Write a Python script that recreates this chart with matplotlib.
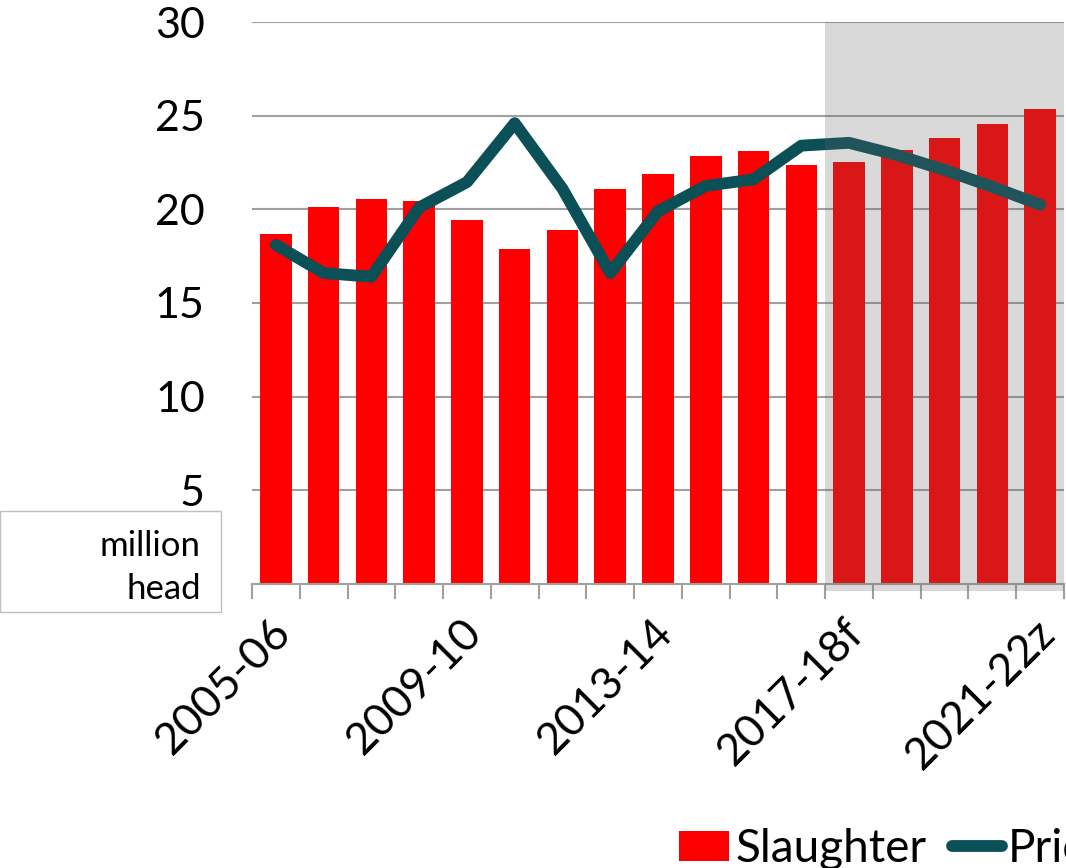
import matplotlib
matplotlib.use("Agg")
import matplotlib.pyplot as plt
import matplotlib.transforms as mtransforms
from matplotlib.patches import Rectangle
import numpy as np

# datos
years = ["2005-06", "2006-07", "2007-08", "2008-09", "2009-10", "2010-11", "2011-12",
         "2012-13", "2013-14", "2014-15", "2015-16", "2016-17", "2017-18f", "2018-19z",
         "2019-20z", "2020-21z", "2021-22z"]
slaughter = [18.7, 20.1, 20.55, 20.45, 19.45, 17.9, 18.9, 21.1, 21.9, 22.85, 23.1,
             22.35, 22.55, 23.15, 23.8, 24.55, 25.35]
price = [18.1, 16.6, 16.4, 20.1, 21.45, 24.6, 21.1, 16.6, 19.9, 21.25, 21.6,
         23.4, 23.55, 22.9, 22.1, 21.2, 20.25]
shown_labels = ["2005-06", "2009-10", "2013-14", "2017-18f", "2021-22z"]

plt.rcParams['font.family'] = ['Lato', 'DejaVu Sans']

fig = plt.figure(figsize=(10.66, 8.68), dpi=100)
ax = fig.add_axes([252/1066, 1-584/868, (1064-252)/1066, (584-22)/868])

x = np.arange(len(years))
barras = ax.bar(x, slaughter, width=0.66, color="#FF0000", zorder=2, label="Slaughter")
linea, = ax.plot(x, price, color="#0B4F57", lw=8.5, solid_capstyle="round",
                 solid_joinstyle="round", zorder=3, label="Price")

# sombreado de proyecciones
ax.add_patch(Rectangle((11.5, -0.35), 5.0, 30.35, facecolor="#646464", alpha=0.24,
                       edgecolor="none", zorder=5, clip_on=False))

ax.set_xlim(-0.5, 16.5)
ax.set_ylim(0, 30)
ax.set_yticks([5, 10, 15, 20, 25, 30])
ax.yaxis.grid(True, color="#A0A0A0", lw=1.5, zorder=0)
ax.set_axisbelow(True)
ax.tick_params(axis="y", length=0, pad=34, labelsize=31)

pos = [years.index(s) for s in shown_labels]
ax.set_xticks(pos)
ax.set_xticklabels(shown_labels, rotation=45, ha="right", rotation_mode="anchor")
ax.tick_params(axis="x", which="major", length=0, pad=20, labelsize=32)
desplaza = mtransforms.ScaledTranslation(-6/100, 0, fig.dpi_scale_trans)
for lab in ax.get_xticklabels():
    lab.set_transform(lab.get_transform() + desplaza)
ax.set_xticks(np.arange(-0.5, 17, 1), minor=True)
ax.tick_params(axis="x", which="minor", length=11, width=1.5, color="#A0A0A0")

for s in ["left", "right", "top"]:
    ax.spines[s].set_visible(False)
ax.spines["bottom"].set_color("#A0A0A0")
ax.spines["bottom"].set_linewidth(1.5)

# caja de unidades
fig.patches.append(Rectangle((0, 1-612/868), 221/1066, 101/868, transform=fig.transFigure,
                             facecolor="white", edgecolor="#BFBFBF", lw=1, zorder=10))
fig.text(201/1066, 1-546/868, "million", ha="right", va="center", fontsize=25, zorder=11)
fig.text(201/1066, 1-589/868, "head", ha="right", va="center", fontsize=25, zorder=11)

fig.legend([barras, linea], ["Slaughter", "Price"], loc="center left",
           bbox_to_anchor=(679/1066, 1-849/868), ncol=2, frameon=False,
           fontsize=33, handlelength=1.1, handleheight=0.63, handletextpad=0.13,
           columnspacing=0.55, borderpad=0, borderaxespad=0)

fig.savefig("out.png", dpi=100)
